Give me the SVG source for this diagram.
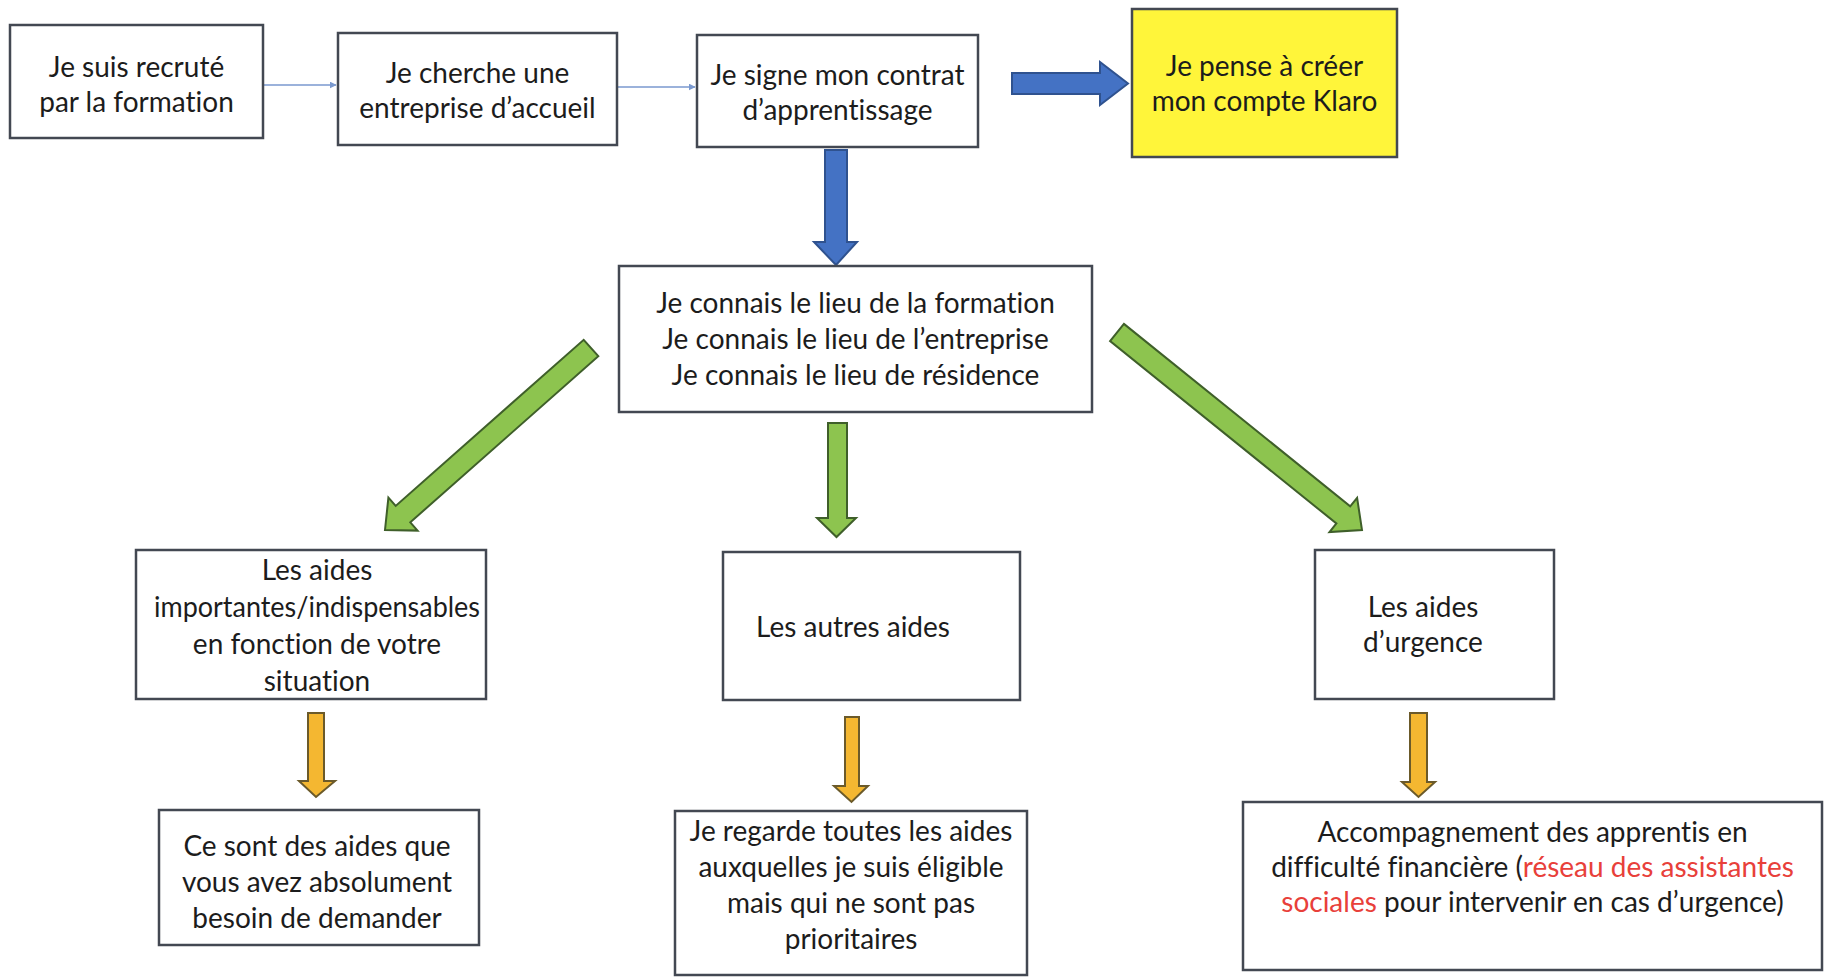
<svg xmlns="http://www.w3.org/2000/svg" width="1825" height="977" viewBox="0 0 1825 977">
<defs>
<style>
.box{fill:#ffffff;stroke:#434852;stroke-width:2.5}
.yel{fill:#FFF53A;stroke:#434852;stroke-width:2.5}
.t{font-family:Lato,"Liberation Sans",sans-serif;font-size:28px;fill:#1c1c1c;text-anchor:middle;font-variant-ligatures:none;font-feature-settings:"liga" 0,"clig" 0}
.red{fill:#E8403A}
.blue{fill:#4472C4;stroke:#2F528F;stroke-width:2}
.green{fill:#8DC44F;stroke:#3F5F2A;stroke-width:2}
.orange{fill:#F4B731;stroke:#6B5A2A;stroke-width:2}
.thin{stroke:#7A99CF;stroke-width:1.5;fill:none}
</style>
<marker id="ah" viewBox="0 0 10 10" refX="9" refY="5" markerWidth="7" markerHeight="7" markerUnits="userSpaceOnUse" orient="auto">
<path d="M0,0 L10,5 L0,10 z" fill="#7A99CF"/>
</marker>
</defs>
<rect width="1825" height="977" fill="#ffffff"/>

<g id="connectors">
<line class="thin" x1="264" y1="85" x2="336" y2="85" marker-end="url(#ah)"/>
<line class="thin" x1="618" y1="87" x2="695" y2="87" marker-end="url(#ah)"/>
<polygon class="blue" points="1012,73 1100,73 1100,62 1128,83.5 1100,105 1100,94 1012,94"/>
<polygon class="blue" points="825,150 847,150 847,242 857,242 836,265 814,242 825,242"/>
<polygon class="green" points="583.7,339.8 598.3,356.2 410.3,522.3 417.6,530.6 385,530 388.4,497.6 395.7,505.9"/>
<polygon class="green" points="828,423 847,423 847,518 856,518 836.5,537 817,518 828,518"/>
<polygon class="green" points="1123.9,323.9 1350.2,506.3 1357.1,497.8 1362,530 1329.5,532 1336.4,523.5 1110.1,341.1"/>
<polygon class="orange" points="308,713 324,713 324,781 335,781 316,797 299,781 308,781"/>
<polygon class="orange" points="845,717 859,717 859,786 868,786 851.5,802 834,786 845,786"/>
<polygon class="orange" points="1410,713 1427,713 1427,782 1435,782 1418.5,797 1402,782 1410,782"/>
</g>

<g id="n1"><rect class="box" x="10" y="25" width="253" height="113"/>
<text class="t" x="136.5" y="77">Je suis recruté</text><text class="t" x="136.5" y="112">par la formation</text></g>

<g id="n2"><rect class="box" x="338" y="33" width="279" height="112"/>
<text class="t" x="477.5" y="83">Je cherche une</text><text class="t" x="477.5" y="118">entreprise d’accueil</text></g>

<g id="n3"><rect class="box" x="697" y="35" width="281" height="112"/>
<text class="t" x="837.5" y="84.5">Je signe mon contrat</text><text class="t" x="837.5" y="119.5">d’apprentissage</text></g>

<g id="n4"><rect class="yel" x="1132" y="9" width="265" height="148"/>
<text class="t" x="1264.5" y="76">Je pense à créer</text><text class="t" x="1264.5" y="111">mon compte Klaro</text></g>

<g id="n5"><rect class="box" x="619" y="266" width="473" height="146"/>
<text class="t" x="855.5" y="313">Je connais le lieu de la formation</text>
<text class="t" x="855.5" y="349">Je connais le lieu de l’entreprise</text>
<text class="t" x="855.5" y="385">Je connais le lieu de résidence</text></g>

<g id="n6"><rect class="box" x="136" y="550" width="350" height="149"/>
<text class="t" x="317" y="580">Les aides</text>
<text class="t" x="317" y="617" textLength="326" lengthAdjust="spacingAndGlyphs">importantes/indispensables</text>
<text class="t" x="317" y="654">en fonction de votre</text>
<text class="t" x="317" y="691">situation</text></g>

<g id="n7"><rect class="box" x="723" y="552" width="297" height="148"/>
<text class="t" x="853" y="637">Les autres aides</text></g>

<g id="n8"><rect class="box" x="1315" y="550" width="239" height="149"/>
<text class="t" x="1423" y="617">Les aides</text><text class="t" x="1423" y="652">d’urgence</text></g>

<g id="n9"><rect class="box" x="159" y="810" width="320" height="135"/>
<text class="t" x="317" y="856">Ce sont des aides que</text>
<text class="t" x="317" y="892">vous avez absolument</text>
<text class="t" x="317" y="928">besoin de demander</text></g>

<g id="n10"><rect class="box" x="675" y="811" width="352" height="164"/>
<text class="t" x="851" y="841">Je regarde toutes les aides</text>
<text class="t" x="851" y="877">auxquelles je suis éligible</text>
<text class="t" x="851" y="913">mais qui ne sont pas</text>
<text class="t" x="851" y="949">prioritaires</text></g>

<g id="n11"><rect class="box" x="1243" y="802" width="579" height="168"/>
<text class="t" x="1532.5" y="842">Accompagnement des apprentis en</text>
<text class="t" x="1532.5" y="877">difficulté financière (<tspan class="red">réseau des assistantes</tspan></text>
<text class="t" x="1532.5" y="912"><tspan class="red">sociales</tspan> pour intervenir en cas d’urgence)</text></g>
</svg>
